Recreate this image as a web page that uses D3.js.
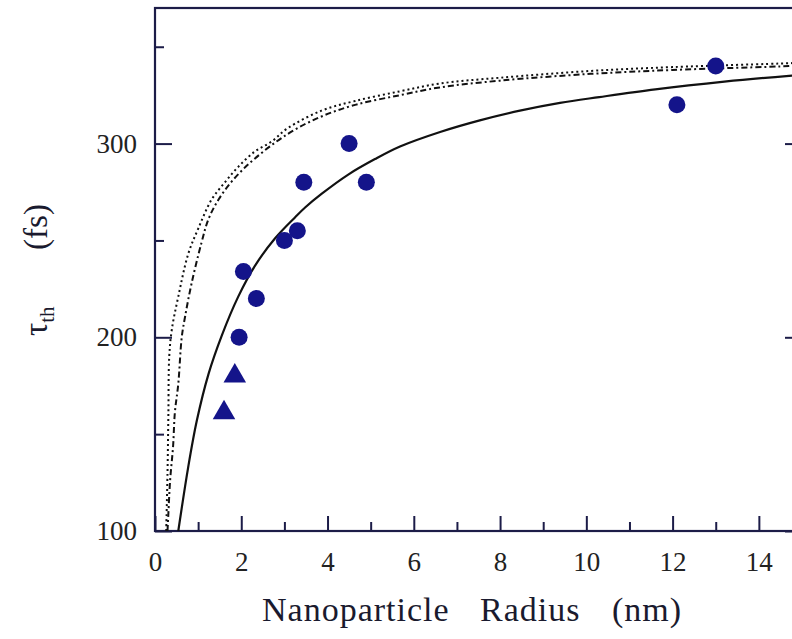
<!DOCTYPE html>
<html>
<head>
<meta charset="utf-8">
<script src="https://cdn.jsdelivr.net/npm/d3@7"></script>
<style>
  body { margin: 0; background: #fff; }
  svg { display: block; font-family: "Liberation Serif", "DejaVu Serif", serif; }
</style>
</head>
<body>
<svg id="chart" width="792" height="639"></svg>
<script>
// Daten
const xMajorTicks = [0, 2, 4, 6, 8, 10, 12, 14];
const xMinorTicks = [1, 3, 5, 7, 9, 11, 13];
const yMajorTicks = [100, 200, 300];
const yMinorTicks = [150, 250, 350];

// Messpunkte: Kreise
const circleR   = [1.95, 2.05, 2.35, 3.0, 3.3, 3.45, 4.5, 4.9, 12.1, 13.0];
const circleTau = [200, 234, 220, 250, 255, 280, 300, 280, 320, 340];

// Messpunkte: Dreiecke
const triR   = [1.6, 1.85];
const triTau = [161, 180];

// Modellkurven
const solidR   = [0.54, 0.77, 0.97, 1.24, 1.55, 1.93, 2.32, 2.78, 3.25, 3.48, 3.86, 4.48, 5.1, 5.68, 6.61, 7.53, 8.46, 9.39, 10.3, 11.6, 13.2, 14.7, 15];
const solidTau = [100, 133, 157, 181, 201, 221, 237, 251, 262, 267, 274, 284, 292, 298.5, 306, 312, 317, 321, 324, 328, 332, 335, 335.5];

const dottedR   = [0.26, 0.29, 0.31, 0.33, 0.39, 0.54, 0.77, 1.0, 1.31, 1.62, 1.93, 2.32, 2.7, 3.08, 3.86, 4.64, 5.68, 6.6, 8.0, 10.1, 12.0, 14.7, 15];
const dottedTau = [100, 130, 160, 190, 204, 221, 243, 256, 271, 280, 288, 296, 301, 308, 317, 322, 327, 331, 334, 337.5, 339.5, 341.5, 341.8];

const dashDotR   = [0.29, 0.31, 0.35, 0.42, 0.46, 0.54, 0.62, 0.70, 0.85, 1.08, 1.24, 1.47, 1.8, 2.3, 3.08, 3.86, 4.64, 5.68, 6.6, 8.0, 10.1, 12.0, 14.7, 15];
const dashDotTau = [100, 109, 126, 144, 161, 176, 200, 211, 228, 249, 261, 271, 281, 292, 305, 314, 320, 325, 329, 332.5, 336, 338, 340, 340.3];

// Layout
const margin = { top: 8, left: 155 };
const width = 647;   // rechter Rand liegt ausserhalb des Bildes
const height = 523;
const ink = "#1c1c48";
const markColor = "#14148a";

const svg = d3.select("#chart");
const g = svg.append("g")
  .attr("transform", `translate(${margin.left},${margin.top})`);

const x = d3.scaleLinear().domain([0, 15]).range([0, width]);
const y = d3.scaleLinear().domain([100, 370]).range([height, 0]);

// Clip fuer Kurven
g.append("clipPath").attr("id", "plot-clip")
  .append("rect").attr("width", width).attr("height", height);

// Achsen: Ticks nach innen
g.append("g")
  .attr("transform", `translate(0,${height})`)
  .call(d3.axisBottom(x).tickValues(xMajorTicks).tickSize(-15).tickPadding(21).tickFormat(d3.format("d")));

g.append("g")
  .attr("transform", `translate(0,${height})`)
  .call(d3.axisBottom(x).tickValues(xMinorTicks).tickSize(-9).tickFormat(""));

g.append("g")
  .call(d3.axisLeft(y).tickValues(yMajorTicks).tickSize(-17).tickPadding(18).tickFormat(d3.format("d")));

g.append("g")
  .call(d3.axisLeft(y).tickValues(yMinorTicks).tickSize(-9).tickFormat(""));

// rechte Achse (nur Ticks)
g.append("g")
  .attr("transform", `translate(${width},0)`)
  .call(d3.axisRight(y).tickValues(yMajorTicks).tickSize(-17).tickFormat(""));
g.append("g")
  .attr("transform", `translate(${width},0)`)
  .call(d3.axisRight(y).tickValues(yMinorTicks).tickSize(-9).tickFormat(""));

g.selectAll(".domain").remove();
g.selectAll(".tick line").attr("stroke", ink).attr("stroke-width", 2);
g.selectAll(".tick text")
  .attr("fill", "#222")
  .attr("font-size", 27)
  .attr("font-family", "Liberation Serif, serif");

// Rahmen
g.append("rect")
  .attr("width", width)
  .attr("height", height)
  .attr("fill", "none")
  .attr("stroke", ink)
  .attr("stroke-width", 2.2);

// Kurven
const line = d3.line()
  .x(d => x(d[0]))
  .y(d => y(d[1]))
  .curve(d3.curveCatmullRom.alpha(0.5));

const curves = [
  { r: dottedR, t: dottedTau, dash: "2,3", w: 2 },
  { r: dashDotR, t: dashDotTau, dash: "6,3,2,3", w: 2 },
  { r: solidR, t: solidTau, dash: null, w: 2.2 }
];

g.append("g")
  .attr("clip-path", "url(#plot-clip)")
  .selectAll("path")
  .data(curves)
  .enter()
  .append("path")
    .attr("d", c => line(c.r.map((v, i) => [v, c.t[i]])))
    .attr("fill", "none")
    .attr("stroke", "#111")
    .attr("stroke-width", c => c.w)
    .attr("stroke-dasharray", c => c.dash);

// Punkte
g.append("g")
  .selectAll("circle")
  .data(circleR.map((r, i) => ({ r, t: circleTau[i] })))
  .enter()
  .append("circle")
    .attr("cx", d => x(d.r))
    .attr("cy", d => y(d.t))
    .attr("r", 8.5)
    .attr("fill", markColor);

const tri = d3.symbol().type(d3.symbolTriangle).size(220);
g.append("g")
  .selectAll("path")
  .data(triR.map((r, i) => ({ r, t: triTau[i] })))
  .enter()
  .append("path")
    .attr("d", tri)
    .attr("transform", d => `translate(${x(d.r)},${y(d.t)})`)
    .attr("fill", markColor);

// x-Achsenbeschriftung (Woerter einzeln, weite Abstaende wie im Original)
const xLabelWords = [
  { text: "Nanoparticle", x: 262 },
  { text: "Radius", x: 480 },
  { text: "(nm)", x: 612 }
];
svg.append("g")
  .selectAll("text")
  .data(xLabelWords)
  .enter()
  .append("text")
    .attr("x", d => d.x)
    .attr("y", 621)
    .attr("fill", "#1a1a2e")
    .attr("font-size", 34)
    .attr("letter-spacing", 1)
    .text(d => d.text);

// y-Achsenbeschriftung
const yLabel = svg.append("text")
  .attr("transform", "translate(47,336) rotate(-90)")
  .attr("fill", "#1a1a2e")
  .attr("font-size", 33);
yLabel.append("tspan").text("τ");
yLabel.append("tspan").attr("font-size", 21).attr("dy", 7).text("th");

svg.append("text")
  .attr("transform", "translate(47,227) rotate(-90)")
  .attr("text-anchor", "middle")
  .attr("fill", "#1a1a2e")
  .attr("font-size", 33)
  .text("(fs)");
</script>
</body>
</html>
